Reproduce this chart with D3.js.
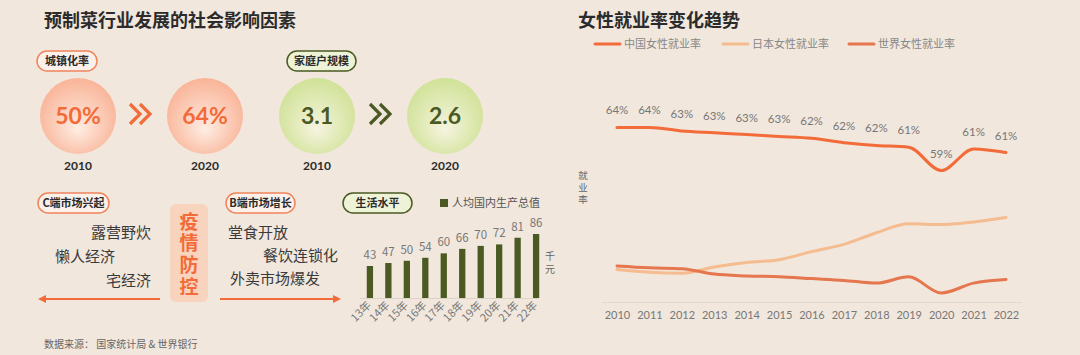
<!DOCTYPE html>
<html><head><meta charset="utf-8">
<script src="https://cdn.jsdelivr.net/npm/d3@7"></script>
<style>
html,body{margin:0;padding:0;background:#F1E7DD;}
svg{display:block;font-family:"Noto Sans CJK SC","Noto Sans",sans-serif;}
</style></head>
<body><svg id="c" width="1080" height="355"></svg>
<script>
// ---------- data ----------
const urbanYears = ["2010", "2020"];
const urbanValues = ["50%", "64%"];
const householdYears = ["2010", "2020"];
const householdValues = ["3.1", "2.6"];
const cSideItems = ["露营野炊", "懒人经济", "宅经济"];
const bSideItems = ["堂食开放", "餐饮连锁化", "外卖市场爆发"];
const centerLabel = "疫情防控";
const gdpCategories = ["13年","14年","15年","16年","17年","18年","19年","20年","21年","22年"];
const gdpValues = [43, 47, 50, 54, 60, 66, 70, 72, 81, 86];
const years = ["2010","2011","2012","2013","2014","2015","2016","2017","2018","2019","2020","2021","2022"];
const chinaRate = [63.6, 63.6, 63.2, 63.0, 62.8, 62.6, 62.4, 61.9, 61.6, 61.4, 58.8, 61.2, 60.8];
const japanRate = [47.8, 47.5, 47.4, 48.1, 48.6, 48.9, 49.8, 50.6, 51.9, 52.9, 52.8, 53.1, 53.6];
const worldRate = [48.2, 48.0, 47.9, 47.3, 47.1, 47.0, 46.8, 46.6, 46.3, 47.0, 45.2, 46.3, 46.7];
const seriesNames = ["中国女性就业率", "日本女性就业率", "世界女性就业率"];

const svg = d3.select("#c");
const ORANGE = "#F26B38", OLIVE = "#4A5A22", TXT = "#2b2b2b";
const defs = svg.append("defs");
function radial(id, c0, c1) {
  const g = defs.append("radialGradient").attr("id", id)
    .attr("cx", "50%").attr("cy", "55%").attr("r", "55%").attr("fx", "50%").attr("fy", "68%");
  g.append("stop").attr("offset", "0%").attr("stop-color", c0);
  g.append("stop").attr("offset", "100%").attr("stop-color", c1);
}
radial("gO", "#FEEDE3", "#F9B498");
radial("gG", "#F6F4E0", "#D0E297");

// ---------- titles ----------
svg.append("text").attr("x", 44).attr("y", 27).attr("font-size", 18).attr("font-weight", 700)
  .attr("fill", TXT).text("预制菜行业发展的社会影响因素");
svg.append("text").attr("x", 578).attr("y", 27).attr("font-size", 18).attr("font-weight", 700)
  .attr("fill", TXT).text("女性就业率变化趋势");

function pill(x, y, w, label, green) {
  svg.append("rect").attr("x", x).attr("y", y).attr("width", w).attr("height", 20).attr("rx", 10)
    .attr("fill", green ? "#EEF3D8" : "#FCF1EA").attr("stroke", green ? OLIVE : "#F0845A").attr("stroke-width", 1.5);
  svg.append("text").attr("x", x + w / 2).attr("y", y + 14).attr("text-anchor", "middle")
    .attr("font-size", 11).attr("font-weight", 700).attr("fill", TXT).text(label);
}
function chevrons(cx, cy, color) {
  [-5, 5].forEach(dx => {
    svg.append("path").attr("d", `M${cx + dx - 5},${cy - 10} L${cx + dx + 5},${cy} L${cx + dx - 5},${cy + 10}`)
      .attr("fill", "none").attr("stroke", color).attr("stroke-width", 3.2);
  });
}

// ---------- urbanisation ----------
pill(37, 51, 60, "城镇化率", false);
const bigX = d3.scalePoint().domain([0, 1]).range([78, 205]);
urbanValues.forEach((v, i) => {
  const cx = bigX(i);
  svg.append("circle").attr("cx", cx).attr("cy", 116).attr("r", 38).attr("fill", "url(#gO)");
  svg.append("text").attr("x", cx).attr("y", 124).attr("text-anchor", "middle").attr("font-size", 23)
    .attr("font-weight", 700).attr("font-family", "Lato, 'Open Sans', sans-serif").attr("fill", ORANGE).text(v);
  svg.append("text").attr("x", cx).attr("y", 170).attr("text-anchor", "middle").attr("font-size", 12)
    .attr("font-weight", 700).attr("font-family", "Lato, sans-serif").attr("fill", TXT).text(urbanYears[i]);
});
chevrons(140, 114, ORANGE);

// ---------- household size ----------
pill(287, 51, 69, "家庭户规模", true);
const bigX2 = d3.scalePoint().domain([0, 1]).range([317, 445]);
householdValues.forEach((v, i) => {
  const cx = bigX2(i);
  svg.append("circle").attr("cx", cx).attr("cy", 116).attr("r", 38).attr("fill", "url(#gG)");
  svg.append("text").attr("x", cx).attr("y", 124).attr("text-anchor", "middle").attr("font-size", 23)
    .attr("font-weight", 700).attr("font-family", "Lato, 'Open Sans', sans-serif").attr("fill", OLIVE).text(v);
  svg.append("text").attr("x", cx).attr("y", 170).attr("text-anchor", "middle").attr("font-size", 12)
    .attr("font-weight", 700).attr("font-family", "Lato, sans-serif").attr("fill", TXT).text(householdYears[i]);
});
chevrons(380, 114, OLIVE);

// ---------- C side ----------
pill(38, 193, 71, "C端市场兴起", false);
const cAnchors = [151, 115, 151];
cSideItems.forEach((t, i) => {
  svg.append("text").attr("x", cAnchors[i]).attr("y", 238 + i * 24).attr("text-anchor", "end")
    .attr("font-size", 15).attr("fill", "#3a3a3a").text(t);
});
svg.append("line").attr("x1", 44).attr("x2", 160).attr("y1", 299).attr("y2", 299)
  .attr("stroke", ORANGE).attr("stroke-width", 2);
svg.append("path").attr("d", "M38,299 L46,295 L46,303 Z").attr("fill", ORANGE);

// ---------- middle box ----------
svg.append("rect").attr("x", 170).attr("y", 204).attr("width", 38).attr("height", 98).attr("rx", 6)
  .attr("fill", "#F8D3BE");
svg.append("text").attr("x", 189).attr("y", 212)
  .attr("writing-mode", "tb").style("writing-mode", "vertical-rl")
  .attr("letter-spacing", 2.7).attr("font-size", 19).attr("font-weight", 700)
  .attr("fill", ORANGE).text(centerLabel);

// ---------- B side ----------
pill(226, 193, 69, "B端市场增长", false);
const bAnchors = [228, 263, 230];
bSideItems.forEach((t, i) => {
  svg.append("text").attr("x", bAnchors[i]).attr("y", 238 + i * 23).attr("text-anchor", "start")
    .attr("font-size", 15).attr("fill", "#3a3a3a").text(t);
});
svg.append("line").attr("x1", 220).attr("x2", 334).attr("y1", 299).attr("y2", 299)
  .attr("stroke", ORANGE).attr("stroke-width", 2);
svg.append("path").attr("d", "M341,299 L333,295 L333,303 Z").attr("fill", ORANGE);

// ---------- living standard bars ----------
pill(343, 193, 69, "生活水平", true);
svg.append("rect").attr("x", 440).attr("y", 199).attr("width", 8).attr("height", 8).attr("fill", OLIVE);
svg.append("text").attr("x", 452).attr("y", 207).attr("font-size", 11).attr("fill", "#555").text("人均国内生产总值");

const bx = d3.scaleBand().domain(gdpCategories).range([364, 542]).paddingInner(0.66).paddingOuter(0.15);
const by = d3.scaleLinear().domain([0, 86]).range([298, 234]);
svg.append("line").attr("x1", 360).attr("x2", 538).attr("y1", 298.5).attr("y2", 298.5)
  .attr("stroke", "#DCD3C8").attr("stroke-width", 1);
svg.selectAll(".bar").data(gdpValues).join("rect")
  .attr("x", (d, i) => bx(gdpCategories[i])).attr("width", bx.bandwidth())
  .attr("y", d => by(d)).attr("height", d => by(0) - by(d)).attr("fill", OLIVE);
svg.selectAll(".bl").data(gdpValues).join("text")
  .attr("x", (d, i) => bx(gdpCategories[i]) + bx.bandwidth() / 2).attr("y", d => by(d) - 7)
  .attr("text-anchor", "middle").attr("font-size", 11.5).attr("fill", "#777").text(d => d);
svg.selectAll(".xl").data(gdpCategories).join("text")
  .attr("transform", d => `translate(${bx(d) + bx.bandwidth() / 2 + 2},${306}) rotate(-45)`)
  .attr("text-anchor", "end").attr("font-size", 11).attr("fill", "#777").text(d => d);
svg.append("text").attr("x", 550).attr("y", 260).attr("text-anchor", "middle").attr("font-size", 10).attr("fill", "#666").text("千");
svg.append("text").attr("x", 550).attr("y", 273).attr("text-anchor", "middle").attr("font-size", 10).attr("fill", "#666").text("元");

svg.append("text").attr("x", 44).attr("y", 348).attr("font-size", 10).attr("fill", "#666")
  .text("数据来源：  国家统计局 & 世界银行");

// ---------- female employment chart ----------
const colors = [ORANGE, "#F5BC90", "#E5764E"];
const legX = [595, 723, 849];
seriesNames.forEach((n, i) => {
  svg.append("line").attr("x1", legX[i]).attr("x2", legX[i] + 25).attr("y1", 44).attr("y2", 44)
    .attr("stroke", colors[i]).attr("stroke-width", 3).attr("stroke-linecap", "round");
  svg.append("text").attr("x", legX[i] + 29).attr("y", 48).attr("font-size", 11).attr("fill", "#888").text(n);
});
const xs = d3.scalePoint().domain(years).range([617, 1006]);
const ys = d3.scaleLinear().domain([44.2, 66]).range([302, 105.8]);
svg.append("line").attr("x1", 602).attr("x2", 1022).attr("y1", 302.5).attr("y2", 302.5)
  .attr("stroke", "#DDD8D2").attr("stroke-width", 1);
const xAxis = svg.append("g").attr("transform", "translate(0,302)")
  .call(d3.axisBottom(xs).tickSize(0).tickPadding(9));
xAxis.select(".domain").remove();
xAxis.selectAll("text").attr("font-size", 11).attr("fill", "#777")
  .attr("font-family", "Lato, 'Noto Sans', sans-serif");
["就", "业", "率"].forEach((ch, i) => {
  svg.append("text").attr("x", 583).attr("y", 179 + i * 12).attr("text-anchor", "middle")
    .attr("font-size", 9.5).attr("fill", "#666").text(ch);
});
const line = d3.line().x((d, i) => xs(years[i])).y(d => ys(d)).curve(d3.curveMonotoneX);
[japanRate, worldRate, chinaRate].forEach((s, k) => {
  const ci = [1, 2, 0][k];
  svg.append("path").datum(s).attr("d", line).attr("fill", "none")
    .attr("stroke", colors[ci]).attr("stroke-width", 3).attr("stroke-linecap", "round");
});
svg.selectAll(".cl").data(chinaRate).join("text")
  .attr("x", (d, i) => xs(years[i])).attr("y", d => ys(d) - 13)
  .attr("text-anchor", "middle").attr("font-size", 11.5).attr("fill", "#777")
  .attr("font-family", "Lato, 'Noto Sans', sans-serif")
  .text(d => Math.round(d) + "%");
</script></body></html>
